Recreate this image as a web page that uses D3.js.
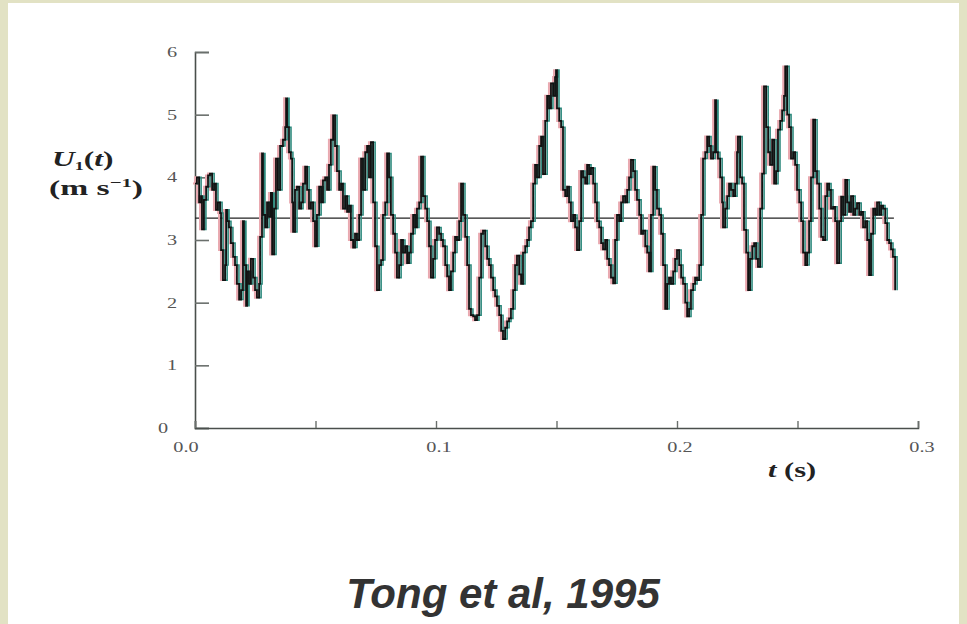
<!DOCTYPE html>
<html>
<head>
<meta charset="utf-8">
<script src="https://cdn.jsdelivr.net/npm/d3@7"></script>
<style>
  body { margin: 0; background: #e2e2c4; }
  svg { display: block; }
</style>
</head>
<body>
<svg id="chart"></svg>
<script>
// time (ms) and streamwise velocity U1 (m/s)
const timeMs = [
  0.0, 0.8, 1.7, 2.5, 2.9, 3.7, 4.6, 5.4, 6.2, 7.1, 7.9, 8.7, 9.5, 10.4, 10.8, 11.6, 12.5, 12.9, 13.3, 14.1,
  14.9, 15.8, 16.6, 17.4, 18.3, 19.1, 19.9, 20.3, 21.2, 21.6, 22.4, 23.2, 24.1, 24.9, 25.7, 26.6, 27.0, 27.8, 28.2, 29.1,
  29.9, 30.7, 31.5, 32.0, 32.8, 33.6, 34.4, 35.3, 36.5, 37.4, 37.8, 38.2, 39.0, 39.8, 40.3, 40.7, 41.5, 42.3, 43.2, 44.0,
  44.8, 45.7, 46.5, 47.3, 48.1, 49.0, 49.8, 50.6, 51.5, 52.3, 53.1, 54.0, 54.8, 55.6, 56.4, 57.3, 58.1, 58.9, 59.8, 60.6,
  61.4, 62.3, 63.1, 63.9, 64.7, 65.6, 66.4, 67.2, 68.1, 68.9, 69.7, 70.6, 71.4, 72.2, 73.0, 73.9, 74.7, 75.5, 76.4, 77.2,
  78.0, 78.9, 79.7, 80.5, 81.3, 82.2, 83.0, 83.8, 84.7, 85.5, 86.3, 87.2, 88.0, 88.8, 89.6, 90.5, 91.3, 92.1, 93.0, 93.8,
  94.6, 95.5, 96.3, 97.1, 97.9, 98.8, 99.6, 100.4, 101.3, 102.1, 102.9, 103.8, 104.6, 105.4, 106.2, 107.1, 107.9, 108.7, 109.6, 110.4,
  111.2, 112.1, 112.9, 113.7, 114.5, 115.4, 116.2, 117.0, 117.9, 118.7, 119.5, 120.4, 121.2, 122.0, 122.8, 123.7, 124.5, 125.3, 126.2, 127.0,
  127.8, 128.7, 129.5, 130.3, 131.1, 132.0, 132.8, 133.6, 134.5, 135.3, 136.1, 137.0, 137.8, 138.6, 139.4, 140.3, 141.1, 141.9, 142.8, 143.6,
  144.4, 145.3, 146.1, 146.9, 147.7, 148.6, 149.4, 149.8, 150.2, 151.1, 151.9, 152.7, 153.6, 154.4, 155.2, 156.0, 156.9, 157.7, 158.5, 159.4,
  160.2, 161.0, 161.9, 162.7, 163.5, 164.3, 165.2, 166.0, 166.8, 167.7, 168.5, 169.3, 170.2, 171.0, 171.8, 172.6, 173.5, 174.3, 175.1, 176.0,
  176.8, 177.6, 178.5, 179.3, 180.1, 180.9, 181.8, 182.6, 183.4, 184.3, 185.1, 185.9, 186.8, 187.6, 188.4, 189.2, 190.1, 190.9, 191.7, 192.6,
  193.4, 194.2, 195.1, 195.9, 196.7, 197.5, 198.4, 199.2, 200.0, 200.9, 201.7, 202.5, 203.4, 204.2, 205.0, 205.8, 206.7, 207.5, 208.3, 209.2,
  210.0, 210.8, 211.7, 212.5, 213.3, 214.1, 215.0, 215.8, 216.2, 217.0, 217.9, 218.7, 219.1, 220.0, 220.8, 221.6, 222.4, 223.3, 224.1, 224.9,
  225.3, 226.2, 227.0, 227.8, 228.7, 229.5, 230.3, 231.2, 232.0, 232.8, 233.6, 234.5, 235.3, 236.1, 237.0, 237.8, 238.6, 239.5, 240.3, 241.1,
  241.9, 242.8, 243.6, 244.4, 244.9, 245.7, 246.5, 247.3, 248.2, 249.0, 249.8, 250.7, 251.5, 252.3, 253.2, 254.0, 254.8, 255.6, 256.5, 257.3,
  258.1, 259.0, 259.8, 260.6, 261.5, 262.3, 263.1, 263.9, 264.8, 265.6, 266.4, 267.3, 268.1, 268.9, 269.8, 270.6, 271.4, 272.2, 273.1, 273.9,
  274.7, 275.6, 276.4, 277.2, 278.1, 278.9, 279.7, 280.5, 281.4, 282.2, 283.0, 283.9, 284.7, 285.5, 286.4, 287.2, 288.0, 288.8, 289.6, 290.5
];
const velocity = [
  3.90, 4.00, 3.60, 3.70, 3.17, 3.64, 3.85, 4.03, 4.06, 3.80, 3.90, 3.48, 3.60, 3.43, 2.84, 2.36, 2.60, 3.48, 3.30, 3.20,
  2.95, 2.73, 2.60, 2.30, 2.05, 2.20, 3.30, 2.60, 1.95, 2.50, 2.30, 2.70, 2.40, 2.20, 2.08, 2.30, 3.05, 4.38, 3.40, 3.20,
  3.60, 3.37, 3.75, 2.77, 3.50, 4.30, 3.80, 4.50, 4.60, 4.80, 5.26, 4.80, 4.40, 4.30, 3.60, 3.13, 3.80, 3.85, 3.50, 3.60,
  3.90, 4.17, 3.80, 3.50, 3.60, 3.30, 2.90, 3.40, 3.85, 3.60, 3.95, 4.00, 3.80, 4.20, 4.60, 4.99, 4.50, 4.10, 3.80, 3.90,
  3.50, 3.70, 3.45, 3.55, 3.00, 2.88, 3.10, 3.00, 3.40, 4.30, 3.80, 4.40, 4.50, 4.00, 4.56, 3.60, 2.90, 2.20, 2.60, 2.68,
  3.40, 3.60, 4.38, 4.00, 3.40, 3.10, 2.80, 2.40, 2.60, 3.00, 2.80, 2.90, 2.63, 2.80, 3.10, 3.40, 3.20, 3.50, 3.60, 4.33,
  3.70, 3.50, 3.30, 2.90, 2.40, 2.70, 3.00, 3.20, 3.10, 3.00, 2.90, 2.60, 2.42, 2.20, 2.50, 2.80, 3.05, 3.00, 3.30, 3.90,
  3.40, 3.05, 2.60, 1.90, 1.80, 1.78, 1.72, 1.80, 2.40, 3.10, 3.15, 2.90, 2.70, 2.60, 2.40, 2.20, 2.10, 1.95, 1.80, 1.55,
  1.42, 1.60, 1.70, 1.75, 1.90, 2.20, 2.60, 2.75, 2.45, 2.30, 2.80, 2.90, 3.00, 3.20, 3.30, 3.90, 4.20, 4.00, 4.50, 4.65,
  4.05, 4.90, 5.30, 5.10, 5.50, 5.30, 5.60, 5.71, 5.10, 4.90, 4.80, 3.80, 3.70, 3.85, 3.60, 3.30, 3.40, 3.20, 2.84, 3.30,
  4.10, 4.00, 3.90, 4.20, 4.05, 4.15, 3.90, 3.60, 3.30, 3.20, 2.95, 2.85, 3.00, 2.70, 2.60, 2.40, 2.31, 3.00, 3.40, 3.30,
  3.60, 3.70, 3.60, 3.80, 4.00, 4.28, 4.10, 3.80, 3.64, 3.40, 3.10, 3.15, 2.90, 2.80, 2.50, 3.40, 4.17, 3.80, 3.50, 3.40,
  3.10, 2.60, 1.90, 2.30, 2.40, 2.30, 2.50, 2.70, 2.84, 2.60, 2.40, 2.30, 2.00, 1.78, 1.90, 2.20, 2.30, 2.40, 2.36, 2.60,
  3.40, 4.30, 4.40, 4.65, 4.50, 4.30, 4.40, 5.23, 4.40, 4.30, 4.00, 3.60, 3.20, 3.50, 3.70, 3.90, 3.80, 3.70, 3.90, 4.40,
  4.65, 4.00, 3.90, 3.16, 2.80, 2.20, 2.70, 2.90, 2.95, 2.70, 2.57, 3.50, 4.06, 5.45, 4.80, 4.40, 4.20, 4.60, 3.90, 4.10,
  4.76, 4.90, 5.07, 5.30, 5.77, 5.00, 4.80, 4.30, 4.40, 4.20, 3.80, 3.60, 3.30, 2.80, 2.60, 2.80, 3.30, 4.00, 4.92, 4.10,
  3.90, 3.50, 3.05, 3.00, 3.70, 3.90, 3.80, 3.50, 3.53, 3.30, 2.63, 3.30, 3.69, 3.40, 3.96, 3.60, 3.45, 3.70, 3.40, 3.50,
  3.59, 3.40, 3.45, 3.20, 3.30, 3.00, 2.44, 3.10, 3.50, 3.40, 3.60, 3.40, 3.55, 3.50, 3.27, 3.00, 2.95, 2.85, 2.73, 2.20
];
const meanU = 3.35;
const meanSpan = [0, 0.29];
const xTicks = [0, 0.05, 0.1, 0.15, 0.2, 0.25, 0.3];
const xTickLabels = ["0.0", "", "0.1", "", "0.2", "", "0.3"];
const yTicks = [0, 1, 2, 3, 4, 5, 6];

const width = 967, height = 624;
const margin = { top: 52, right: 49, bottom: 196, left: 195 };

const svg = d3.select("#chart")
    .attr("width", width)
    .attr("height", height);

// white slide panel inside the olive frame
svg.append("rect")
    .attr("x", 8).attr("y", 3)
    .attr("width", width - 16).attr("height", height - 3)
    .attr("fill", "#ffffff");

const data = timeMs.map((t, i) => ({ t: t / 1000, u: velocity[i] }));

const x = d3.scaleLinear().domain([0, 0.3]).range([margin.left, width - margin.right]);
const y = d3.scaleLinear().domain([0, 6]).range([height - margin.bottom, margin.top]);

const axisColor = "#4a4f4c";
const serif = "Liberation Serif, serif";

// y axis, ticks pointing inward
const yAxis = svg.append("g")
    .attr("transform", `translate(${margin.left},0)`)
    .call(d3.axisRight(y).tickValues(yTicks).tickSize(14).tickFormat(""));
yAxis.select(".domain").attr("stroke", axisColor).attr("stroke-width", 1.6);
yAxis.selectAll(".tick line").attr("stroke", "#6a6f6c").attr("stroke-width", 1.6);

// the scanned figure is stretched sideways, so labels are widened too
svg.append("g").selectAll("text")
    .data(yTicks)
    .join("text")
    .attr("transform", d => `translate(${d === 0 ? margin.left - 32 : margin.left - 23},${y(d) + 5}) scale(1.35,1)`)
    .attr("text-anchor", "middle")
    .attr("font-family", serif)
    .attr("font-size", 15)
    .attr("fill", "#555")
    .text(d => d);

// x axis, ticks pointing up
const xAxis = svg.append("g")
    .attr("transform", `translate(0,${height - margin.bottom})`)
    .call(d3.axisTop(x).tickValues(xTicks).tickSize(7).tickFormat(""));
xAxis.select(".domain").attr("stroke", axisColor).attr("stroke-width", 1.6);
xAxis.selectAll(".tick line").attr("stroke", "#6a6f6c").attr("stroke-width", 1.4);

svg.append("g").selectAll("text")
    .data(xTicks)
    .join("text")
    .attr("transform", (d, i) => `translate(${x(d) + (i === 0 ? -9 : i === 6 ? 4 : 3)},${height - margin.bottom + 24}) scale(1.35,1)`)
    .attr("text-anchor", "middle")
    .attr("font-family", serif)
    .attr("font-size", 15)
    .attr("fill", "#555")
    .text((d, i) => xTickLabels[i]);

// mean line
svg.append("line")
    .attr("x1", x(meanSpan[0])).attr("x2", x(meanSpan[1]))
    .attr("y1", y(meanU)).attr("y2", y(meanU))
    .attr("stroke", "#222")
    .attr("stroke-width", 1.2);

const line = d3.line()
    .x(d => x(d.t))
    .y(d => y(d.u))
    .curve(d3.curveStepAfter);

// colour fringes of the scanned trace, then the trace itself
svg.append("path")
    .datum(data)
    .attr("transform", "translate(-2,0)")
    .attr("d", line)
    .attr("fill", "none")
    .attr("stroke", "#e9a9b0")
    .attr("stroke-width", 2);

svg.append("path")
    .datum(data)
    .attr("transform", "translate(2,0)")
    .attr("d", line)
    .attr("fill", "none")
    .attr("stroke", "#2f8a7e")
    .attr("stroke-width", 1.6);

svg.append("path")
    .datum(data)
    .attr("d", line)
    .attr("fill", "none")
    .attr("stroke", "#111")
    .attr("stroke-width", 1.8);

// axis titles
const yTitle = svg.append("text")
    .attr("transform", "translate(52,166) scale(1.5,1)")
    .attr("font-family", serif)
    .attr("font-weight", "bold")
    .attr("font-size", 21)
    .attr("fill", "#222");
yTitle.append("tspan").attr("font-style", "italic").text("U");
yTitle.append("tspan").attr("font-size", 12).attr("dy", 4).text("1");
yTitle.append("tspan").attr("dy", -4).text("(");
yTitle.append("tspan").attr("font-style", "italic").text("t");
yTitle.append("tspan").text(")");

const yUnits = svg.append("text")
    .attr("transform", "translate(49,195) scale(1.6,1)")
    .attr("font-family", serif)
    .attr("font-weight", "bold")
    .attr("font-size", 21)
    .attr("fill", "#222");
yUnits.append("tspan").text("(m s");
yUnits.append("tspan").attr("font-size", 13).attr("dy", -8).text("−1");
yUnits.append("tspan").attr("dy", 8).text(")");

const xTitle = svg.append("text")
    .attr("transform", "translate(768,477) scale(1.45,1)")
    .attr("font-family", serif)
    .attr("font-weight", "bold")
    .attr("font-size", 21)
    .attr("fill", "#222");
xTitle.append("tspan").attr("font-style", "italic").text("t");
xTitle.append("tspan").text(" (s)");

// caption
svg.append("text")
    .attr("x", 503).attr("y", 608)
    .attr("text-anchor", "middle")
    .attr("font-family", "Liberation Sans, Arial, sans-serif")
    .attr("font-weight", "bold")
    .attr("font-style", "italic")
    .attr("font-size", 42)
    .attr("fill", "#333")
    .text("Tong et al, 1995");
</script>
</body>
</html>
